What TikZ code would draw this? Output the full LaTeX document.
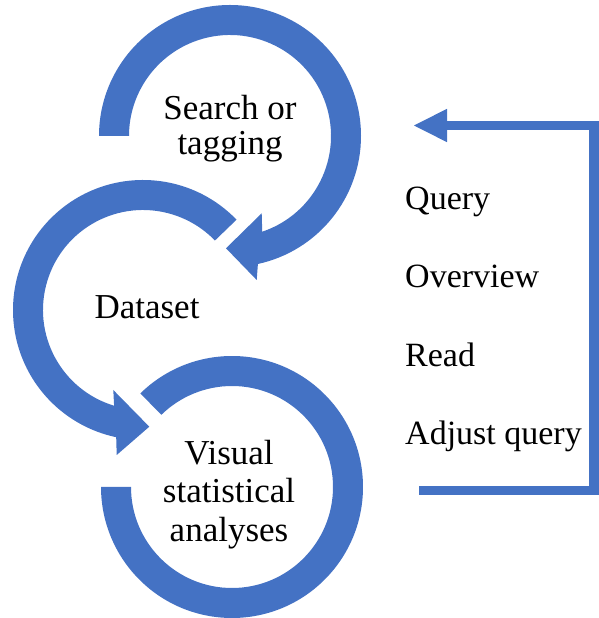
\documentclass[tikz,border=0pt]{standalone}
\usepackage{fontspec}
\setmainfont{Liberation Serif}
\definecolor{ringblue}{RGB}{68,114,196}
\begin{document}
\begin{tikzpicture}[x=1pt,y=1pt,
  ringfill/.style={fill=ringblue, draw=none},
  lbl/.style={font=\fontsize{35}{35}\selectfont, inner sep=0pt, text=black},
  lblwide/.style={font=\fontsize{35}{38.5}\selectfont, inner sep=0pt, text=black},
  lblside/.style={font=\fontsize{34}{35}\selectfont, inner sep=0pt, text=black},
  feedback/.style={draw=ringblue, line width=9.5pt, line join=miter}]
\useasboundingbox (0,0) rectangle (599,618);
% centres of the three rings
\coordinate (c1) at (230,482);
\coordinate (c2) at (143,308);
\coordinate (c3) at (232,131);
% ring 1 with arrowhead
\coordinate (w1o) at (256.7,338);
\coordinate (t1) at (226,369.7);
\coordinate (w1i) at (261.7,404.7);
\path[ringfill] ([shift={(180:131)}]c1) arc[start angle=180, end angle=-77.7, radius=131]
  -- (w1o) -- (t1) -- (w1i) -- ([shift={(-71.4:101)}]c1)
  arc[start angle=-71.4, end angle=180, radius=101] -- cycle;
% ring 2 with arrowhead
\coordinate (w2o) at (116.7,163);
\coordinate (t2) at (149.3,191.3);
\coordinate (w2i) at (113.3,228);
\path[ringfill] ([shift={(44:130)}]c2) arc[start angle=44, end angle=258.1, radius=130]
  -- (w2o) -- (t2) -- (w2i) -- ([shift={(253.2:100)}]c2)
  arc[start angle=253.2, end angle=44, radius=100] -- cycle;
% ring 3 without arrowhead
\path[ringfill] ([shift={(134.4:131)}]c3) arc[start angle=134.4, end angle=-180, radius=131]
  -- ([shift={(180:101)}]c3) arc[start angle=-180, end angle=134.4, radius=101] -- cycle;
% feedback connector
\coordinate (fb) at (419,127.5);
\coordinate (fc) at (594,492.5);
\coordinate (fa) at (447,492.5);
\coordinate (ftip) at (414,492.5);
\coordinate (fau) at (447,509.2);
\coordinate (fal) at (447,475.8);
\draw[feedback] (fb) -| (fc) -- (fa);
\path[ringfill] (ftip) -- (fau) -- (fal) -- cycle;
% labels (base anchor = baseline of the last line)
\node[lbl, align=center, anchor=base] (search) at (230,463) {Search or\\tagging};
\node[lbl, anchor=base] (dataset) at (147,299) {Dataset};
\node[lblwide, align=center, anchor=base] (visual) at (229,76.5) {Visual\\statistical\\analyses};
\node[lblside, anchor=base west] (query) at (405,408) {Query};
\node[lblside, anchor=base west] (overview) at (405,330) {Overview};
\node[lblside, anchor=base west] (read) at (405,251) {Read};
\node[lblside, anchor=base west] (adjust) at (405,173) {Adjust query};
\end{tikzpicture}
\end{document}
